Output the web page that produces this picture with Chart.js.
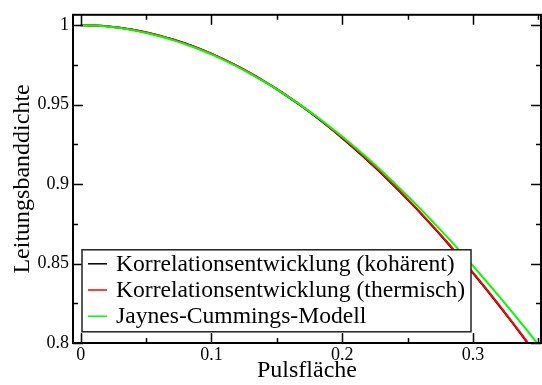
<!DOCTYPE html>
<html>
<head>
<meta charset="utf-8">
<script src="https://cdn.jsdelivr.net/npm/chart.js@4/dist/chart.umd.min.js"></script>
<style>
  html, body { margin: 0; padding: 0; background: #fff; }
</style>
</head>
<body>
<canvas id="c" width="542" height="385"></canvas>
<script>
// Werte
const pulsflaeche = [0, 0.01, 0.02, 0.03, 0.04, 0.05, 0.06, 0.07, 0.08, 0.09,
  0.10, 0.11, 0.12, 0.13, 0.14, 0.15, 0.16, 0.17, 0.18, 0.19,
  0.20, 0.21, 0.22, 0.23, 0.24, 0.25, 0.26, 0.27, 0.28, 0.29,
  0.30, 0.31, 0.32, 0.33, 0.34, 0.35];
const kohaerent = [1.0000, 0.9998, 0.9993, 0.9984, 0.9971, 0.9954, 0.9934, 0.9911, 0.9884, 0.9853,
  0.9819, 0.9781, 0.9740, 0.9695, 0.9647, 0.9596, 0.9541, 0.9483, 0.9422, 0.9357,
  0.9289, 0.9218, 0.9144, 0.9067, 0.8986, 0.8902, 0.8816, 0.8726, 0.8634, 0.8538,
  0.8440, 0.8339, 0.8235, 0.8129, 0.8020, 0.7908];
const thermisch = [1.0000, 0.9998, 0.9993, 0.9984, 0.9971, 0.9955, 0.9935, 0.9912, 0.9885, 0.9855,
  0.9821, 0.9783, 0.9742, 0.9698, 0.9650, 0.9599, 0.9544, 0.9486, 0.9425, 0.9360,
  0.9292, 0.9221, 0.9147, 0.9070, 0.8989, 0.8905, 0.8819, 0.8729, 0.8637, 0.8541,
  0.8443, 0.8342, 0.8238, 0.8132, 0.8023, 0.7911];
const jaynesCummings = [1.0000, 0.9998, 0.9992, 0.9982, 0.9968, 0.9951, 0.9930, 0.9907, 0.9880, 0.9850,
  0.9816, 0.9778, 0.9738, 0.9694, 0.9646, 0.9596, 0.9542, 0.9486, 0.9427, 0.9364,
  0.9299, 0.9230, 0.9159, 0.9084, 0.9006, 0.8925, 0.8842, 0.8756, 0.8669, 0.8579,
  0.8485, 0.8390, 0.8293, 0.8194, 0.8093, 0.7989];

const labels = ["Korrelationsentwicklung (kohärent)", "Korrelationsentwicklung (thermisch)", "Jaynes-Cummings-Modell"];
const colors = ["#000000", "#ff0000", "#00ff00"];

const xTicks = [0, 0.1, 0.2, 0.3];
const xMinor = [0.05, 0.15, 0.25, 0.35];
const yTicks = [0.8, 0.85, 0.9, 0.95, 1];
const yMinor = [0.825, 0.875, 0.925, 0.975];

const serif = "'Liberation Serif', 'DejaVu Serif', serif";

function pts(ys) {
  return pulsflaeche.map((x, i) => ({ x: x, y: ys[i] }));
}

// Rahmen, Striche nach innen und Legende im Diagramm
const rahmen = {
  id: "rahmen",
  afterDatasetsDraw(chart) {
    const { ctx, chartArea: a, scales: { x, y } } = chart;
    ctx.save();
    ctx.strokeStyle = "#000";
    ctx.lineWidth = 1.5;
    const tick = (vals, len) => {
      vals.forEach(v => {
        const px = Math.round(x.getPixelForValue(v)) + 0.5;
        if (px < a.left || px > a.right) return;
        ctx.beginPath();
        ctx.moveTo(px, a.bottom); ctx.lineTo(px, a.bottom - len);
        ctx.moveTo(px, a.top); ctx.lineTo(px, a.top + len);
        ctx.stroke();
      });
    };
    const ytick = (vals, len) => {
      vals.forEach(v => {
        const py = Math.round(y.getPixelForValue(v)) + 0.5;
        ctx.beginPath();
        ctx.moveTo(a.left, py); ctx.lineTo(a.left + len, py);
        ctx.moveTo(a.right, py); ctx.lineTo(a.right - len, py);
        ctx.stroke();
      });
    };
    tick(xTicks, 10); tick(xMinor, 5);
    ytick(yTicks, 10); ytick(yMinor, 5);

    ctx.lineWidth = 2;
    ctx.strokeRect(a.left, a.top, a.right - a.left, a.bottom - a.top);

    // Legende
    const lx = a.left + 9, ly = a.top + 235, lw = 389, lh = 82;
    ctx.fillStyle = "#fff";
    ctx.fillRect(lx, ly, lw, lh);
    ctx.lineWidth = 1.5;
    ctx.strokeStyle = "#222";
    ctx.strokeRect(lx, ly, lw, lh);
    ctx.font = "23.6px " + serif;
    ctx.textBaseline = "middle";
    chart.data.datasets.forEach((ds, i) => {
      const cy = ly + 14 + i * 26.2;
      ctx.strokeStyle = ds.borderColor;
      ctx.lineWidth = 1.5;
      ctx.beginPath();
      ctx.moveTo(lx + 6, cy); ctx.lineTo(lx + 25, cy);
      ctx.stroke();
      ctx.fillStyle = "#000";
      ctx.fillText(ds.label, lx + 34, cy + 1);
    });
    ctx.restore();
  }
};

new Chart(document.getElementById("c"), {
  type: "line",
  data: {
    datasets: [
      { label: labels[0], data: pts(kohaerent), borderColor: colors[0], order: 2 },
      { label: labels[1], data: pts(thermisch), borderColor: colors[1], order: 1 },
      { label: labels[2], data: pts(jaynesCummings), borderColor: colors[2], order: 0 }
    ].map(d => Object.assign(d, { borderWidth: 2, pointRadius: 0, fill: false, cubicInterpolationMode: "monotone" }))
  },
  options: {
    responsive: false,
    animation: false,
    layout: { padding: { top: 14, right: 1, left: 0, bottom: 0 } },
    plugins: { legend: { display: false }, tooltip: { enabled: false } },
    scales: {
      x: {
        type: "linear",
        min: -0.0059,
        max: 0.352,
        grid: { display: false, drawTicks: false },
        border: { display: false },
        afterBuildTicks: s => { s.ticks = xTicks.map(v => ({ value: v })); },
        afterFit: s => { s.height = 42; },
        ticks: { color: "#000", font: { family: serif, size: 18 }, padding: 1, callback: v => String(v), maxRotation: 0 },
        title: { display: true, text: "Pulsfläche", color: "#000", font: { family: serif, size: 24 }, padding: 0 }
      },
      y: {
        min: 0.8,
        max: 1.0065,
        grid: { display: false, drawTicks: false },
        border: { display: false },
        afterBuildTicks: s => { s.ticks = yTicks.map(v => ({ value: v })); },
        afterFit: s => { s.width = 73; },
        ticks: { color: "#000", font: { family: serif, size: 18 }, padding: 4, callback: v => String(v) },
        title: { display: true, text: "Leitungsbanddichte", color: "#000", font: { family: serif, size: 24 }, padding: { top: 8, bottom: 0 } }
      }
    }
  },
  plugins: [rahmen]
});
</script>
</body>
</html>
